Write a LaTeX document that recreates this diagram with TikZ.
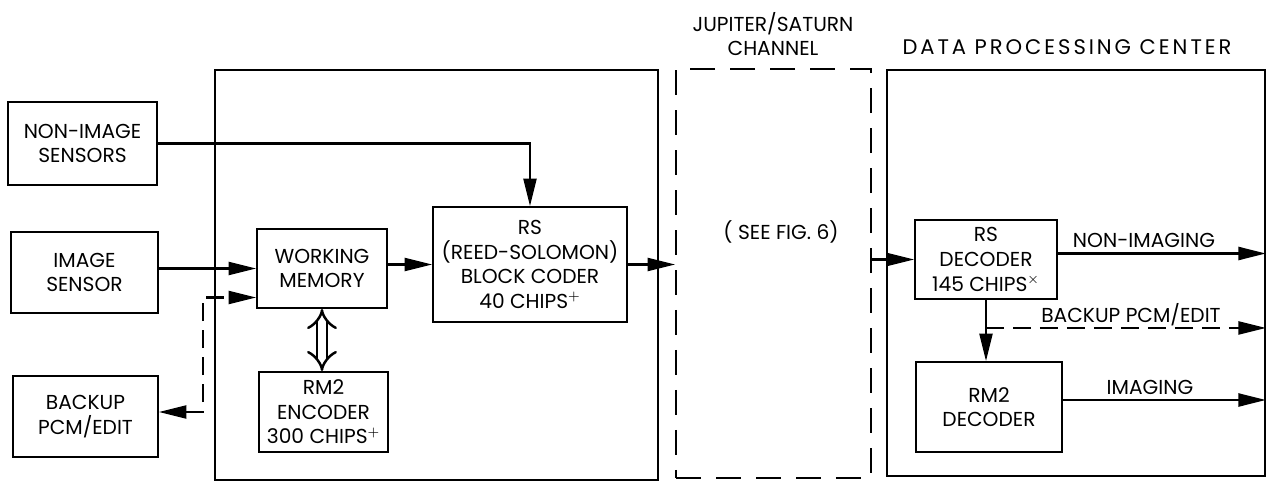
\documentclass[tikz,border=0pt]{standalone}
\usepackage{fontspec}
\setmainfont{Poppins}
\usepackage{tikz}
\usetikzlibrary{arrows.meta,positioning,calc}
\tikzset{
  box/.style={draw,line width=1.1pt,align=center,inner sep=1pt,font=\fontsize{11.5}{14}\selectfont},
  area/.style={draw,line width=1.1pt,inner sep=0pt},
  dsh/.style={dash pattern=on 3.6mm off 1.8mm},
  lbl/.style={font=\fontsize{11.5}{14}\selectfont,inner sep=1pt,align=center},
}

\begin{document}
\begin{tikzpicture}[x=0.02cm,y=-0.02cm,>={Triangle[length=5.5mm,width=2.6mm]},
 arr/.style={->,line width=1.3pt}]
\useasboundingbox (0,0) rectangle (1269,483);
% spacecraft, channel and ground areas
\node[area,minimum width=8.86cm,minimum height=8.2cm] (sc) at (436.5,275) {};
\node[area,dash pattern=on 5mm off 3mm,minimum width=3.9cm,minimum height=8.18cm] (ch) at (773.5,273.5) {};
\node[area,minimum width=7.56cm,minimum height=8.12cm] (dp) at (1076,273) {};
\node[lbl] (cht) at (773,34) {JUPITER/SATURN\\CHANNEL};
\node[lbl,font=\fontsize{12}{14}\selectfont\addfontfeatures{LetterSpace=14}] (dpt) at (1067,47) {DATA PROCESSING CENTER};
\node[lbl] (fig) at (781,232) {( SEE FIG. 6)};
% sources
\node[box,minimum width=2.98cm,minimum height=1.66cm] (ni) at (82.5,143.5) {NON-IMAGE\\SENSORS};
\node[box,minimum width=2.94cm,minimum height=1.62cm] (im) at (84.5,272.5) {IMAGE\\SENSOR};
\node[box,minimum width=2.9cm,minimum height=1.62cm] (bk) at (85.5,416.5) {BACKUP\\PCM/EDIT};
% spacecraft coding
\node[box,minimum width=2.6cm,minimum height=1.58cm] (wm) at (322,268.5) {WORKING\\MEMORY};
\node[box,minimum width=2.58cm,minimum height=1.6cm] (enc) at (323.5,412) {RM2\\ENCODER\\300 CHIPS$^+$};
\node[box,minimum width=3.88cm,minimum height=2.3cm] (rs) at (530,264.5) {RS\\(REED-SOLOMON)\\BLOCK CODER\\40 CHIPS$^+$};
% ground decoding
\node[box,minimum width=2.84cm,minimum height=1.58cm] (rd) at (986,259.5) {RS\\DECODER\\145 CHIPS$^{\times}$};
\node[box,minimum width=2.92cm,minimum height=1.8cm] (rm) at (989,407) {RM2\\DECODER};
% spacecraft links
\draw[arr] (ni.east) -| (rs.north);
\draw[arr] (im.east |- wm.west) -- (wm.west);
\coordinate (bj) at (203,412);
\draw[line width=1.3pt,dsh,<->] (bj -| bk.east) -- (bj) |- ($(wm.west)+(0,29)$);
\draw[line width=1.4pt,double,double distance=4.5pt,{Implies}-{Implies}] (wm.south) -- (wm.south |- enc.north);
\draw[arr] (wm.east |- rs.west) -- (rs.west);
\draw[arr] (rs.east) -- (rs.east -| ch.west);
\draw[arr] (ch.east |- rd.west) -- (rd.west);
% ground outputs
\coordinate (nio) at ($(rd.east)+(0,-6)$);
\draw[arr] (nio) -- (nio -| dp.east);
\node[lbl] (lni) at (1144,240) {NON-IMAGING};
\draw[arr] (rd.south) -- (rd.south |- rm.north);
\coordinate (bj2) at ($(rd.south)+(0,28)$);
\draw[arr,dsh] (bj2) -- (bj2 -| dp.east);
\node[lbl] (lbk) at (1131,315) {BACKUP PCM/EDIT};
\coordinate (imo) at ($(rm.east)+(0,-7)$);
\draw[arr] (imo) -- (imo -| dp.east);
\node[lbl] (lim) at (1150,387) {IMAGING};
\end{tikzpicture}
\end{document}
